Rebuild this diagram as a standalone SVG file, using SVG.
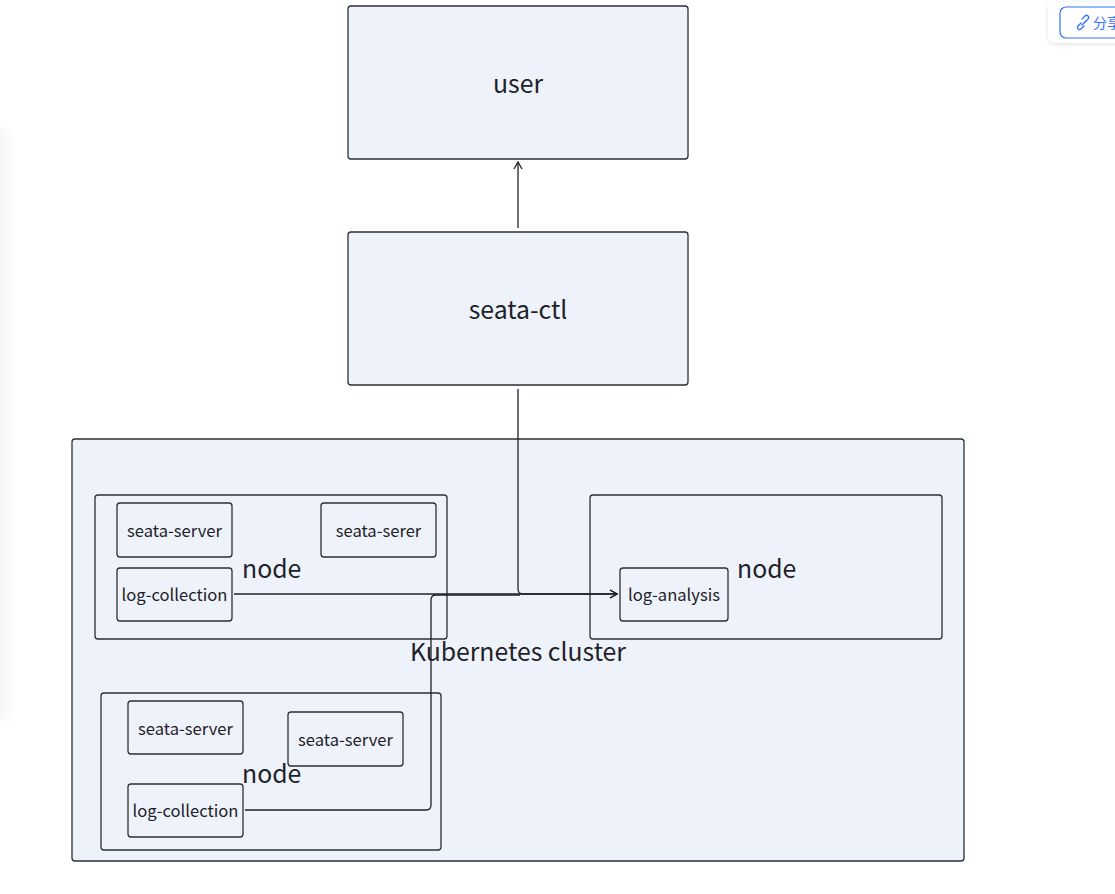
<svg xmlns="http://www.w3.org/2000/svg" width="1115" height="894" viewBox="0 0 1115 894">
<defs>
<style>
.box{fill:#eef2fa;stroke:#2b2f36;stroke-width:1.3}
.big{font-family:"Noto Sans CJK SC","Noto Sans",sans-serif;font-size:24.8px;fill:#1f2329}
.sm{font-family:"Noto Sans CJK SC","Noto Sans",sans-serif;font-size:16.6px;fill:#1f2329}
.conn{fill:none;stroke:#1f2329;stroke-width:1.3}
</style>
<marker id="arr" viewBox="0 0 10 10" refX="9" refY="5" markerWidth="10" markerHeight="10" markerUnits="userSpaceOnUse" orient="auto">
<path d="M2,1 L9,5 L2,9" fill="none" stroke="#1f2329" stroke-width="1.3"/>
</marker>
<filter id="blur" x="-200%" y="-20%" width="500%" height="140%">
<feGaussianBlur stdDeviation="8"/>
</filter>
<filter id="sh" x="-20%" y="-30%" width="140%" height="160%">
<feDropShadow dx="0" dy="1" stdDeviation="2" flood-color="#000" flood-opacity="0.12"/>
</filter>
</defs>
<rect width="1115" height="894" fill="#ffffff"/>
<rect x="-20" y="130" width="26" height="590" fill="#000" opacity="0.05" filter="url(#blur)"/>

<g id="share-button">
<rect x="1048" y="2" width="90" height="41" rx="8" fill="#ffffff" filter="url(#sh)"/>
<rect x="1060" y="7" width="80" height="31" rx="6" fill="#ffffff" stroke="#3370ff" stroke-width="1.2"/>
<g fill="none" stroke="#3370ff" stroke-width="1.3" stroke-linecap="round">
<path d="M1082,19 l3,-3 a2.1,2.1 0 0 1 3,3 l-3,3"/>
<path d="M1084,26 l-3,3 a2.1,2.1 0 0 1 -3,-3 l3,-3"/>
<path d="M1082,25 l4,-4"/>
</g>
<text x="1093" y="28" font-family="'Noto Sans CJK SC',sans-serif" font-size="14" fill="#3370ff">分享</text>
</g>

<g id="user">
<rect class="box" x="348" y="6" width="340" height="153" rx="3"/>
<text class="big" x="518" y="93" text-anchor="middle">user</text>
</g>

<g id="seata-ctl">
<rect class="box" x="348" y="232" width="340" height="153" rx="3"/>
<text class="big" x="518" y="319" text-anchor="middle">seata-ctl</text>
</g>

<g id="kubernetes-cluster">
<rect class="box" x="72" y="439" width="892" height="422" rx="3"/>
<text class="big" x="518" y="661" text-anchor="middle">Kubernetes cluster</text>
</g>

<g id="node-1">
<rect class="box" x="95" y="495" width="352" height="144" rx="3"/>
<text class="big" x="242" y="578">node</text>
</g>
<g id="node1-seata-server">
<rect class="box" x="117" y="503" width="115" height="54" rx="3"/>
<text class="sm" x="174.5" y="537" text-anchor="middle">seata-server</text>
</g>
<g id="node1-seata-serer">
<rect class="box" x="321" y="503" width="115" height="54" rx="3"/>
<text class="sm" x="378.5" y="537" text-anchor="middle">seata-serer</text>
</g>
<g id="node1-log-collection">
<rect class="box" x="117" y="568" width="115" height="53" rx="3"/>
<text class="sm" x="174.5" y="601" text-anchor="middle">log-collection</text>
</g>

<g id="node-2">
<rect class="box" x="590" y="495" width="352" height="144" rx="3"/>
<text class="big" x="737" y="578">node</text>
</g>
<g id="log-analysis">
<rect class="box" x="620" y="568" width="108" height="53" rx="3"/>
<text class="sm" x="674" y="601" text-anchor="middle">log-analysis</text>
</g>

<g id="node-3">
<rect class="box" x="101" y="693" width="340" height="157" rx="3"/>
<text class="big" x="242" y="783">node</text>
</g>
<g id="node3-seata-server-a">
<rect class="box" x="128" y="701" width="115" height="53" rx="3"/>
<text class="sm" x="185.5" y="735" text-anchor="middle">seata-server</text>
</g>
<g id="node3-seata-server-b">
<rect class="box" x="288" y="712" width="115" height="54" rx="3"/>
<text class="sm" x="345.5" y="746" text-anchor="middle">seata-server</text>
</g>
<g id="node3-log-collection">
<rect class="box" x="128" y="784" width="115" height="53" rx="3"/>
<text class="sm" x="185.5" y="817" text-anchor="middle">log-collection</text>
</g>

<g id="connectors">
<path class="conn" d="M518,228 L518,162" marker-end="url(#arr)"/>
<path class="conn" d="M518,389 L518,589 Q518,594 523,594 L617,594" marker-end="url(#arr)"/>
<path class="conn" d="M234,594 L617,594" marker-end="url(#arr)"/>
<path class="conn" d="M245,810 L426,810 Q431,810 431,805 L431,600 Q431,595 436,595 L520,595"/>
</g>
</svg>
